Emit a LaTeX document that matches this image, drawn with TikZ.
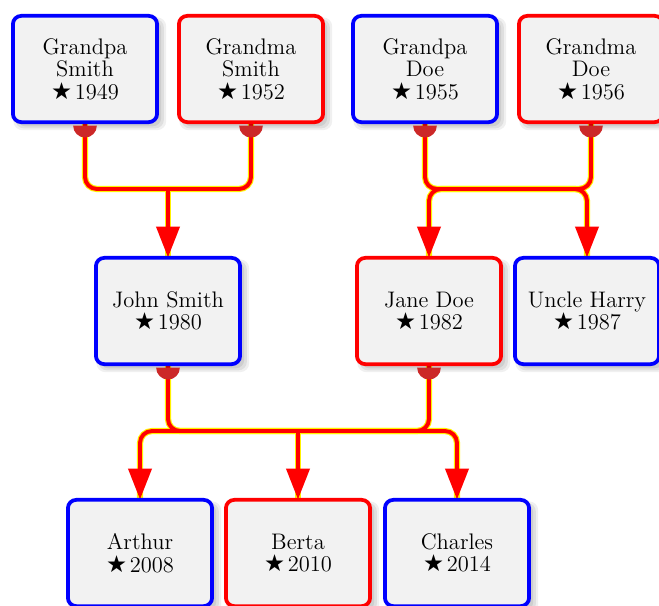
\documentclass[tikz,border=0pt]{standalone}
\usepackage{fontspec}
\newfontfamily\symf{DejaVu Sans}
\usetikzlibrary{arrows.meta,shadows}
\newcommand\gborn{{\symf\fontsize{12.5}{12}\selectfont ★}\hspace{1.5pt}}
\definecolor{dotred}{RGB}{204,40,40}
\tikzset{
  pbox/.style={draw, line width=2pt, rounded corners=4.5pt, fill=gray!10,
    minimum width=76.9pt, minimum height=56.7pt, align=center, inner sep=0pt,
    font=\fontsize{12}{12}\selectfont,
    general shadow={fill=black, fill opacity=.06, shadow xshift=2.4pt, shadow yshift=-2.4pt, shadow scale=1.06},
    general shadow={fill=black, fill opacity=.07, shadow xshift=2.4pt, shadow yshift=-2.4pt, shadow scale=1.03},
    general shadow={fill=black, fill opacity=.08, shadow xshift=2.2pt, shadow yshift=-2.2pt}},
  male/.style={pbox, draw=blue},
  female/.style={pbox, draw=red},
  ebg/.style={draw=yellow, line width=3.3pt, rounded corners=6.4pt},
  efg/.style={draw=red, line width=2.1pt, rounded corners=6.4pt},
  earr/.style={efg, -{Triangle[length=16.5pt, width=12.3pt]}},
}
\begin{document}
\begin{tikzpicture}[x=0.5333pt, y=-0.5333pt]
\useasboundingbox (0,0) rectangle (659,605);
\clip (0,0) rectangle (659,605);
% node positions (centres)
\coordinate (pGS) at (85,69);
\coordinate (pGmS) at (251,69);
\coordinate (pGD) at (425,69);
\coordinate (pGmD) at (591,69);
\coordinate (pJohn) at (168,311);
\coordinate (pJane) at (429,311);
\coordinate (pHarry) at (587,311);
\coordinate (pArthur) at (140,553);
\coordinate (pBerta) at (298,553);
\coordinate (pCharles) at (457,553);
% invisible geometry for edges
\begin{scope}[every node/.style={minimum width=76.9pt, minimum height=56.7pt, inner sep=0pt}]
\path node (GS) at (pGS) {} node (GmS) at (pGmS) {} node (GD) at (pGD) {} node (GmD) at (pGmD) {}
      node (John) at (pJohn) {} node (Jane) at (pJane) {} node (Harry) at (pHarry) {}
      node (Arthur) at (pArthur) {} node (Berta) at (pBerta) {} node (Charles) at (pCharles) {};
\end{scope}
\coordinate (j1) at (168,189);
\coordinate (j2) at (508,189);
\coordinate (j3) at (298,431);
% edges background
\draw[ebg] (GS.south) |- (j1) -| (GmS.south);
\draw[ebg] (j1) -- (John.north);
\draw[ebg] (GD.south) |- (j2) -| (GmD.south);
\draw[ebg] (j2) -| (Jane.north);
\draw[ebg] (j2) -| (Harry.north);
\draw[ebg] (John.south) |- (j3) -| (Jane.south);
\draw[ebg] (j3) -| (Arthur.north);
\draw[ebg] (j3) -- (Berta.north);
\draw[ebg] (j3) -| (Charles.north);
% edges foreground
\draw[efg] (GS.south) |- (j1) -| (GmS.south);
\draw[earr] (j1) -- (John.north);
\draw[efg] (GD.south) |- (j2) -| (GmD.south);
\draw[earr] (j2) -| (Jane.north);
\draw[earr] (j2) -| (Harry.north);
\draw[efg] (John.south) |- (j3) -| (Jane.south);
\draw[earr] (j3) -| (Arthur.north);
\draw[earr] (j3) -- (Berta.north);
\draw[earr] (j3) -| (Charles.north);
% boxes
\node[male]   (bGS) at (pGS) {Grandpa\\Smith\\\gborn1949};
\node[female] (bGmS) at (pGmS) {Grandma\\Smith\\\gborn1952};
\node[male]   (bGD) at (pGD) {Grandpa\\Doe\\\gborn1955};
\node[female] (bGmD) at (pGmD) {Grandma\\Doe\\\gborn1956};
\node[male]   (bJohn) at (pJohn) {John Smith\\\gborn1980};
\node[female] (bJane) at (pJane) {Jane Doe\\\gborn1982};
\node[male]   (bHarry) at (pHarry) {Uncle Harry\\\gborn1987};
\node[male]   (bArthur) at (pArthur) {Arthur\\\gborn2008};
\node[female] (bBerta) at (pBerta) {Berta\\\gborn2010};
\node[male]   (bCharles) at (pCharles) {Charles\\\gborn2014};
% parent dots
\foreach \n in {bGS,bGmS,bGD,bGmD,bJohn,bJane}{
  \fill[dotred] ([yshift=-0.9pt]\n.south) ++(-6.3pt,0) arc[start angle=180, end angle=360, radius=6.3pt] -- cycle;
}
\end{tikzpicture}
\end{document}
